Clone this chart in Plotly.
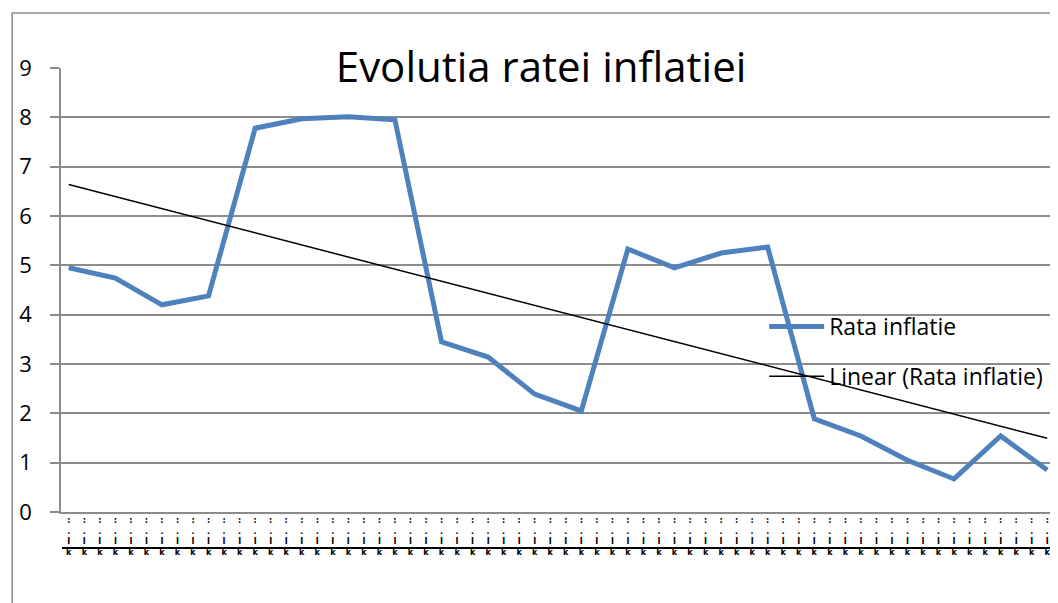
import numpy as np
import plotly.graph_objects as go

# ---- data ----
n_categories = 64
point_step = 3
rata_inflatie = [4.95, 4.74, 4.20, 4.38, 7.78, 7.97, 8.01, 7.95, 3.45, 3.14, 2.39,
                 2.05, 5.33, 4.95, 5.25, 5.37, 1.89, 1.54, 1.05, 0.67, 1.54, 0.85]
category_label = ":<br>.<br>I<br>k"
y_ticks = [0, 1, 2, 3, 4, 5, 6, 7, 8, 9]
title_text = "Evolutia ratei inflatiei"
series_name = "Rata inflatie"
trend_name = "Linear (Rata inflatie)"

x_pos = np.arange(len(rata_inflatie)) * point_step
idx = np.arange(len(rata_inflatie))
slope, intercept = np.polyfit(idx, rata_inflatie, 1)
trend = intercept + slope * idx

fig = go.Figure()
fig.add_trace(go.Scatter(x=x_pos, y=rata_inflatie, mode="lines", name=series_name,
                         line=dict(color="#4F81BD", width=5), legendgroup="a"))
fig.add_trace(go.Scatter(x=x_pos, y=trend, mode="lines", name=trend_name,
                         line=dict(color="black", width=1.5), legendgroup="b"))

W, H = 1058, 603
OFF = 8  # page offset of the figure (body margin)
PL, PR, PT, PB = 57, 1055, 68, 512  # plot area in page pixels
ml, mr, mt, mb = PL - OFF, W - (PR - OFF), PT - OFF, H - (PB - OFF)


def px_x(p):
    return (p - PL) / (PR - PL)


def px_y(p):
    return (PB - p) / (PB - PT)


fig.update_layout(
    width=W, height=H,
    margin=dict(l=ml, r=mr, t=mt, b=mb),
    paper_bgcolor="white", plot_bgcolor="white",
    font=dict(family="Open Sans", color="black"),
    title=dict(text=title_text, x=px_x(539), xref="paper", xanchor="center",
               y=1 - (67 - OFF) / H, yref="container", yanchor="middle",
               font=dict(size=42, family="Open Sans", color="black")),
    showlegend=True,
    legend=dict(x=px_x(763), y=px_y(305), xanchor="left", yanchor="top",
                bgcolor="rgba(0,0,0,0)", font=dict(size=23, color="black"),
                tracegroupgap=17, itemwidth=55),
    xaxis=dict(range=[-0.5, n_categories - 0.5], tickmode="array",
               tickvals=list(range(n_categories)),
               ticktext=[category_label] * n_categories,
               tickfont=dict(size=8, family="DejaVu Sans", color="black", weight="bold"),
               showgrid=False, zeroline=False, showline=True, linecolor="#8c8c8c",
               linewidth=1.5, ticks="", tickangle=0),
    yaxis=dict(range=[0, 9], tickvals=y_ticks, showgrid=True, gridcolor="#8c8c8c",
               gridwidth=1.5, zeroline=False, showline=True, linecolor="#8c8c8c",
               linewidth=1.5, ticks="outside", ticklen=9, tickcolor="#8c8c8c",
               tickwidth=1.5, tickfont=dict(size=22, color="black"),
               ticklabelstandoff=14),
    shapes=[
        dict(type="rect", xref="paper", yref="paper", x0=px_x(8), x1=px_x(1075),
             y0=px_y(620), y1=px_y(13), line=dict(color="#8c8c8c", width=1.5),
             fillcolor="rgba(0,0,0,0)", layer="below"),
        dict(type="line", xref="paper", yref="paper", x0=px_x(58), x1=px_x(1056),
             y0=px_y(548), y1=px_y(548), line=dict(color="black", width=2)),
    ],
)

fig.write_html("out.html")
